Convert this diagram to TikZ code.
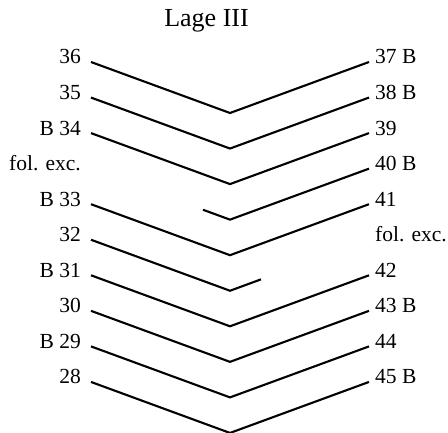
\documentclass[tikz,border=0pt]{standalone}
\usepackage{fontspec}
\setmainfont{Liberation Serif}
\usetikzlibrary{calc}
\begin{document}
\begin{tikzpicture}[x=1pt,y=-1pt,
  lab/.style={font=\fontsize{21.5}{21.5}\selectfont, inner sep=0pt},
  vline/.style={line width=2.1pt, line join=miter}]
\useasboundingbox (0,0) rectangle (448,433);
\node[font=\fontsize{26}{26}\selectfont, anchor=base, inner sep=0pt] (title) at (206.5,27) {Lage III};
\foreach \t [count=\i from 0] in {36,35,B 34,fol. exc.,B 33,32,B 31,30,B 29,28} {
  \pgfmathsetmacro\yy{62+35.55*\i}
  \node[lab, anchor=base east] (l\i) at (81,\yy+2) {\t};
  \coordinate (L\i) at (91,\yy);
  \coordinate (A\i) at (230,\yy+51);
}
\foreach \t [count=\i from 0] in {37 B,38 B,39,40 B,41,fol. exc.,42,43 B,44,45 B} {
  \pgfmathsetmacro\yy{62+35.55*\i}
  \node[lab, anchor=base west] (r\i) at (375,\yy+2) {\t};
  \coordinate (R\i) at (369,\yy);
}
\coordinate (S3) at ($(A3)+(-27,-9.9)$);
\coordinate (S5) at ($(A5)+(31,-11.4)$);
\foreach \i in {0,1,2,4,6,7,8,9} {
  \draw[vline] (L\i) -- (A\i) -- (R\i);
}
\draw[vline] (S3) -- (A3) -- (R3);
\draw[vline] (L5) -- (A5) -- (S5);
\end{tikzpicture}
\end{document}
